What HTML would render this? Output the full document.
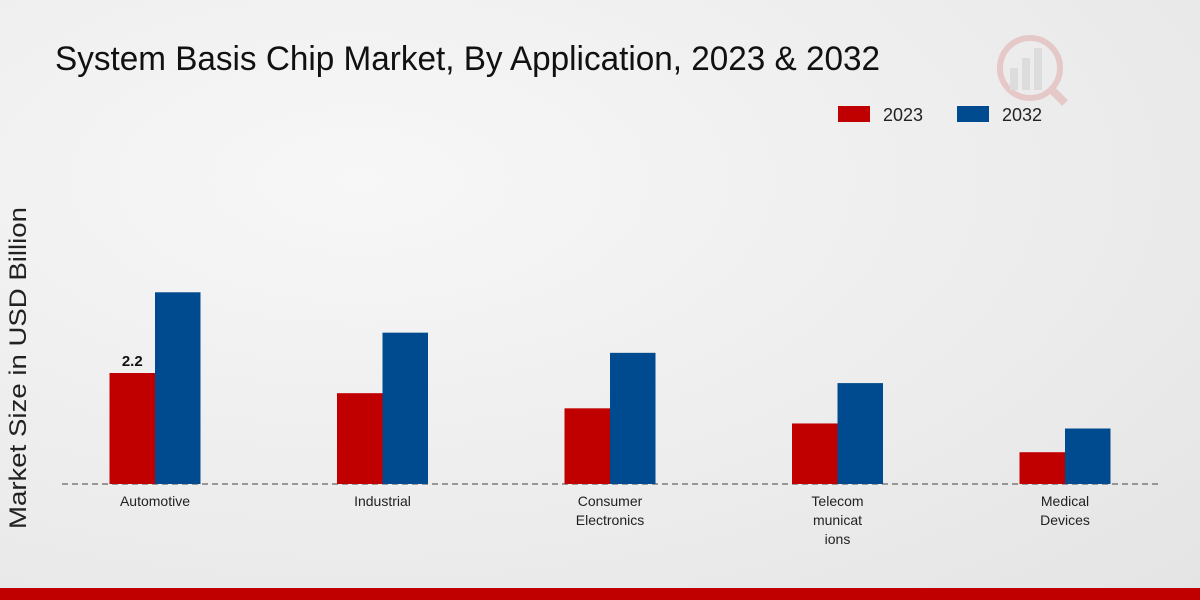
<!DOCTYPE html>
<html><head><meta charset="utf-8"><style>
html,body{margin:0;padding:0;width:1200px;height:600px;overflow:hidden;font-family:"Liberation Sans",sans-serif;}
body{background:radial-gradient(ellipse at 30% 30%,#f7f7f7 0%,#ececec 60%,#e4e4e4 100%);}
</style></head><body>
<svg width="1200" height="600" xmlns="http://www.w3.org/2000/svg" id="chart">
<text x="55" y="70" font-size="34" fill="#111" textLength="825" lengthAdjust="spacingAndGlyphs">System Basis Chip Market, By Application, 2023 &amp; 2032</text>
<g>
<rect x="838" y="106" width="32" height="16" fill="#c00000"/>
<text x="883" y="121" font-size="18" fill="#222">2023</text>
<rect x="957" y="106" width="32" height="16" fill="#004a8f"/>
<text x="1002" y="121" font-size="18" fill="#222">2032</text>
</g>
<g opacity="0.15">
<circle cx="1030" cy="68" r="30" fill="none" stroke="#c00000" stroke-width="6"/>
<rect x="1010" y="68" width="8" height="22" fill="#888"/><rect x="1022" y="58" width="8" height="32" fill="#888"/><rect x="1034" y="48" width="8" height="42" fill="#888"/>
<line x1="1050" y1="88" x2="1065" y2="103" stroke="#c00000" stroke-width="8"/>
</g>
<text transform="translate(26,368) rotate(-90)" text-anchor="middle" font-size="24" fill="#222" textLength="322" lengthAdjust="spacingAndGlyphs">Market Size in USD Billion</text>
<line x1="62" y1="484" x2="1160" y2="484" stroke="#444" stroke-dasharray="6,4" stroke-width="1"/>
<g id="bars"></g>
<g id="labels"></g>
<rect x="0" y="588" width="1200" height="12" fill="#c00000"/>
</svg>
<script>
const categories=[["Automotive"],["Industrial"],["Consumer","Electronics"],["Telecom","municat","ions"],["Medical","Devices"]];
const values2023=[2.2,1.8,1.5,1.2,0.63];
const values2032=[3.8,3.0,2.6,2.0,1.1];
const ns="http://www.w3.org/2000/svg";
const baseY=484, pxPerUnit=50.45, x0=155, step=227.5, bw=45.5;
const y=v=>baseY-v*pxPerUnit;
const cx=i=>x0+i*step;
const bars=document.getElementById('bars'), labels=document.getElementById('labels');
function bar(x,v,color,name){
 const r=document.createElementNS(ns,'rect');
 r.setAttribute('x',x);r.setAttribute('y',y(v));r.setAttribute('width',bw);r.setAttribute('height',baseY-y(v));r.setAttribute('fill',color);
 
 
 bars.appendChild(r);
}
categories.forEach((c,i)=>{
 bar(cx(i)-bw,values2023[i],'#c00000','bar-2023-'+i);
 bar(cx(i),values2032[i],'#004a8f','bar-2032-'+i);
 c.forEach((line,j)=>{
  const t=document.createElementNS(ns,'text');
  t.setAttribute('x',cx(i));t.setAttribute('y',506+j*19);t.setAttribute('text-anchor','middle');t.setAttribute('font-size','14');t.setAttribute('fill','#222');
  t.textContent=line;
  
  
  labels.appendChild(t);
 });
});
const vl=document.createElementNS(ns,'text');
vl.setAttribute('x',cx(0)-bw/2);vl.setAttribute('y',y(values2023[0])-7);vl.setAttribute('text-anchor','middle');vl.setAttribute('font-size','15');vl.setAttribute('font-weight','bold');vl.setAttribute('fill','#111');
vl.textContent=values2023[0];


labels.appendChild(vl);
</script>
</body></html>
